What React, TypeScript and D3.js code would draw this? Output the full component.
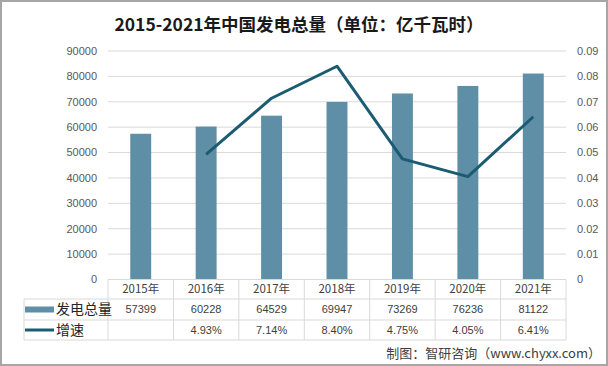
import React from 'react';
import * as d3 from 'd3';

const years = ['2015年', '2016年', '2017年', '2018年', '2019年', '2020年', '2021年'];
const generation = [57399, 60228, 64529, 69947, 73269, 76236, 81122];
const growth: (number | null)[] = [null, 0.0493, 0.0714, 0.084, 0.0475, 0.0405, 0.0641];
const leftTicks = [0, 10000, 20000, 30000, 40000, 50000, 60000, 70000, 80000, 90000];
const rightTicks = [0, 0.01, 0.02, 0.03, 0.04, 0.05, 0.06, 0.07, 0.08, 0.09];
const seriesNames = ['发电总量', '增速'];
const title = '2015-2021年中国发电总量（单位：亿千瓦时）';
const source = '制图：智研咨询（www.chyxx.com）';

const W = 608;
const H = 366;
const plotL = 108;
const plotR = 566;
const plotT = 51;
const plotB = 279.5;
const row1 = 299;
const row2 = 320;
const rowEnd = 340;
const tableL = 24;

const barColor = '#5f8fa6';
const lineColor = '#1b5b73';
const gridColor = '#d9d9d9';
const cjk = '"Noto Sans CJK SC", "Noto Sans", sans-serif';
const latin = '"Liberation Sans", "Noto Sans", sans-serif';

export default function App() {
  const x = d3.scaleBand<string>().domain(years).range([plotL, plotR]).padding(0);
  const yL = d3.scaleLinear().domain([0, 90000]).range([plotB, plotT]);
  const yR = d3.scaleLinear().domain([0, 0.09]).range([plotB, plotT]);
  const bw = x.bandwidth() * 0.32;
  const cx = (y: string) => (x(y) as number) + x.bandwidth() / 2;

  const lineGen = d3
    .line<number | null>()
    .defined((d) => d != null)
    .x((_, i) => cx(years[i]))
    .y((d) => yR(d as number));

  const pct = d3.format('.2%');
  const rightFmt = (v: number) => (v === 0 ? '0' : d3.format('.2')(v));

  const colEdges = years.map((y) => x(y) as number).concat([plotR]);

  return (
    <svg
      width={W}
      height={H}
      style={{ position: 'absolute', left: 0, top: 0, background: '#fff' }}
    >
      <rect x={1} y={1} width={W - 2} height={H - 2} fill="#fff" stroke="#a6a6a6" strokeWidth={2} />
      <text
        x={299}
        y={31}
        textAnchor="middle"
        fontFamily={cjk}
        fontWeight="bold"
        fontSize={17.5}
        fill="#1a1a1a"
      >
        {title}
      </text>

      {leftTicks.map((t) => (
        <g key={'g' + t}>
          {t !== 0 && (
            <line x1={plotL} x2={plotR} y1={yL(t)} y2={yL(t)} stroke={gridColor} strokeWidth={1} />
          )}
          <text
            x={97}
            y={yL(t)}
            dy="0.35em"
            textAnchor="end"
            fontFamily={latin}
            fontSize={11}
            fill="#595959"
          >
            {t}
          </text>
        </g>
      ))}
      {rightTicks.map((t) => (
        <text
          key={'r' + t}
          x={577}
          y={yR(t)}
          dy="0.35em"
          textAnchor="start"
          fontFamily={latin}
          fontSize={11}
          fill="#595959"
        >
          {rightFmt(t)}
        </text>
      ))}

      {generation.map((v, i) => (
        <rect
          key={'b' + i}
          x={cx(years[i]) - bw / 2}
          y={yL(v)}
          width={bw}
          height={plotB - yL(v)}
          fill={barColor}
        />
      ))}

      <path d={lineGen(growth) || ''} fill="none" stroke={lineColor} strokeWidth={3} strokeLinejoin="round" />

      {/* data table */}
      <line x1={plotL} x2={plotR} y1={plotB} y2={plotB} stroke={gridColor} />
      {[row1, row2, rowEnd].map((yy) => (
        <line key={'h' + yy} x1={tableL} x2={plotR} y1={yy} y2={yy} stroke={gridColor} />
      ))}
      <line x1={tableL} x2={tableL} y1={row1} y2={rowEnd} stroke={gridColor} />
      {colEdges.map((xx, i) => (
        <line key={'v' + i} x1={xx} x2={xx} y1={plotB} y2={rowEnd} stroke={gridColor} />
      ))}
      {years.map((y, i) => (
        <g key={'t' + i} fontSize={11.5} fill="#404040" textAnchor="middle">
          <text x={cx(y)} y={(plotB + row1) / 2} dy="0.35em" fontFamily={cjk}>
            {y}
          </text>
          <text x={cx(y)} y={(row1 + row2) / 2} dy="0.35em" fontFamily={latin} fontSize={11}>
            {generation[i]}
          </text>
          <text x={cx(y)} y={(row2 + rowEnd) / 2} dy="0.35em" fontFamily={latin} fontSize={11}>
            {growth[i] == null ? '' : pct(growth[i] as number)}
          </text>
        </g>
      ))}
      <rect x={25} y={(row1 + row2) / 2 - 3} width={29} height={6} fill={barColor} />
      <line x1={25} x2={54} y1={(row2 + rowEnd) / 2} y2={(row2 + rowEnd) / 2} stroke={lineColor} strokeWidth={3} />
      <text x={56} y={(row1 + row2) / 2} dy="0.35em" fontFamily={cjk} fontSize={14} fill="#262626">
        {seriesNames[0]}
      </text>
      <text x={56} y={(row2 + rowEnd) / 2} dy="0.35em" fontFamily={cjk} fontSize={14} fill="#262626">
        {seriesNames[1]}
      </text>

      <text x={601} y={353} dy="0.35em" textAnchor="end" fontFamily={cjk} fontSize={13} fill="#404040">
        {source}
      </text>
    </svg>
  );
}
